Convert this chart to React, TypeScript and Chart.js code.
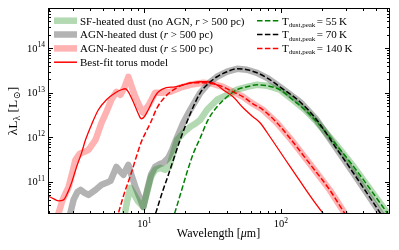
import React, { useEffect, useRef } from "react";
import { Chart, registerables } from "chart.js";
Chart.register(...registerables);

const FONT = "'Liberation Serif', 'DejaVu Serif', 'Times New Roman', serif";

// SF-heated dust (no AGN, r > 500 pc)
const sfWave = [7.15, 7.52, 7.91, 8.45, 9.04, 9.83, 10.5, 11.2, 12.0, 13.1, 14.2, 15.2, 16.3, 17.4, 19.3, 21.7, 23.6, 25.7, 28.8, 34.1, 40.4, 47.8, 56.5, 66.9, 79.1, 98.4, 122, 150, 183, 248, 347, 594, 646];
const sfLum = [1.72e10, 3.94e10, 7.33e10, 5.1e10, 3.56e10, 2.74e10, 5.96e10, 1.3e11, 1.86e11, 2.06e11, 1.86e11, 2.17e11, 4.48e11, 8.79e11, 1.26e12, 1.72e12, 2.01e12, 2.47e12, 4.15e12, 6.97e12, 9.01e12, 1.17e13, 1.36e13, 1.51e13, 1.44e13, 1.17e13, 6.97e12, 4.15e12, 2.23e12, 7.52e11, 2.06e11, 2.12e10, 1.48e10];

// AGN-heated dust (r > 500 pc)
const agnOutWave = [2.84, 3.03, 3.24, 3.41, 3.65, 3.9, 4.39, 4.86, 5.28, 5.65, 5.94, 6.25, 6.58, 7.03, 7.64, 8.04, 8.6, 9.2, 9.83, 10.5, 11.2, 12.0, 13.1, 13.8, 15.0, 16.0, 17.1, 19.3, 21.7, 25.7, 29.3, 34.1, 40.4, 47.8, 56.5, 66.9, 79.1, 98.4, 138, 183, 248, 347, 528, 583];
const agnOutLum = [1.72e10, 3.94e10, 5.96e10, 6.61e10, 5.66e10, 5.1e10, 6.61e10, 8.57e10, 9.5e10, 1.05e11, 1.51e11, 2.17e11, 1.77e11, 1.44e11, 2.41e11, 1.44e11, 7.73e10, 4.6e10, 2.74e10, 6.61e10, 1.44e11, 2.17e11, 2.54e11, 2.67e11, 3.46e11, 5.24e11, 8.79e11, 2.12e12, 4.15e12, 1.0e13, 1.59e13, 2.29e13, 2.97e13, 3.46e13, 3.29e13, 2.81e13, 2.17e13, 1.36e13, 6.28e12, 2.47e12, 6.44e11, 1.44e11, 2.12e10, 1.33e10];

// AGN-heated dust (r <= 500 pc)
const agnInWave = [2.32, 2.52, 2.79, 2.98, 3.13, 3.36, 3.65, 3.9, 4.39, 4.86, 5.28, 5.74, 6.25, 6.68, 7.15, 7.64, 8.04, 8.6, 9.2, 9.83, 10.9, 12.0, 13.5, 15.5, 18.3, 21.7, 27.0, 31.9, 37.7, 44.7, 52.9, 62.5, 74.0, 93.6, 116, 163, 228, 293, 330];
const agnInLum = [1.72e10, 3.94e10, 7.73e10, 1.68e11, 3.12e11, 4.26e11, 4.72e11, 5.24e11, 8.79e11, 2.12e12, 3.74e12, 6.97e12, 1.05e13, 9.01e12, 1.3e13, 2.29e13, 1.44e13, 8.13e12, 5.1e12, 3.55e12, 5.66e12, 1.0e13, 1.0e13, 1.05e13, 1.3e13, 1.51e13, 1.68e13, 1.59e13, 1.36e13, 1.05e13, 8.13e12, 5.66e12, 4.15e12, 2.12e12, 9.75e11, 2.54e11, 6.61e10, 2.0e10, 1.26e10];

// Best-fit torus model
const torusWave = [1.9, 2.17, 2.36, 2.56, 2.74, 2.93, 3.19, 3.47, 3.71, 4.1, 4.61, 5.28, 6.14, 6.8, 7.27, 7.64, 8.17, 8.6, 9.04, 9.51, 10.0, 10.7, 11.6, 12.7, 14.5, 16.8, 19.3, 22.4, 25.7, 28.4, 31.4, 34.7, 37.7, 44.7, 52.9, 62.5, 70.4, 83.2, 116, 203, 248];
const torusLum = [5.1e10, 4.15e10, 3.74e10, 3.94e10, 5.66e10, 9.5e10, 2.17e11, 4.48e11, 8.79e11, 1.91e12, 4.15e12, 6.97e12, 1.0e13, 1.17e13, 1.23e13, 1.05e13, 6.97e12, 4.84e12, 3.37e12, 2.61e12, 2.89e12, 4.15e12, 6.97e12, 1.05e13, 1.3e13, 1.36e13, 1.51e13, 1.68e13, 1.77e13, 1.77e13, 1.68e13, 1.44e13, 1.17e13, 8.13e12, 4.6e12, 2.89e12, 2.12e12, 1.03e12, 2.29e11, 2.0e10, 1.08e10];

// T_dust,peak = 55 K
const t55Wave = [16.0, 16.8, 18.6, 20.6, 22.8, 25.7, 29.3, 34.1, 40.4, 47.8, 56.5, 66.9, 79.1, 98.4, 122, 150, 183, 248, 347, 594, 646];
const t55Lum = [1.33e10, 2.12e10, 5.96e10, 1.68e11, 4.26e11, 9.75e11, 2.47e12, 4.84e12, 8.13e12, 1.17e13, 1.36e13, 1.51e13, 1.44e13, 1.17e13, 6.97e12, 4.15e12, 2.23e12, 7.52e11, 2.06e11, 2.12e10, 1.48e10];

// T_dust,peak = 70 K
const t70Wave = [11.6, 12.2, 13.5, 15.0, 16.6, 18.3, 21.7, 25.7, 29.3, 34.1, 40.4, 47.8, 56.5, 66.9, 79.1, 98.4, 138, 183, 248, 347, 528, 583];
const t70Lum = [1.33e10, 2.12e10, 5.66e10, 1.44e11, 3.65e11, 8.79e11, 3.37e12, 1.0e13, 1.59e13, 2.29e13, 2.97e13, 3.46e13, 3.29e13, 2.81e13, 2.17e13, 1.36e13, 6.28e12, 2.47e12, 6.44e11, 1.44e11, 2.12e10, 1.33e10];

// T_dust,peak = 140 K
const t140Wave = [6.25, 7.15, 7.91, 8.6, 9.51, 10.2, 11.1, 12.4, 14.2, 16.8, 19.3, 22.8, 27.0, 31.9, 37.7, 44.7, 52.9, 62.5, 74.0, 93.6, 116, 163, 228, 293, 330];
const t140Lum = [1.4e10, 5.66e10, 1.37e11, 3.12e11, 7.93e11, 1.26e12, 2.12e12, 4.6e12, 8.13e12, 1.23e13, 1.51e13, 1.68e13, 1.68e13, 1.59e13, 1.36e13, 1.05e13, 8.13e12, 5.66e12, 4.15e12, 2.12e12, 9.75e11, 2.54e11, 6.61e10, 2.0e10, 1.26e10];

// axes
const X_MIN = 1.97;
const X_MAX = 620;
const Y_MIN = 2e10;
const Y_MAX = 8e14;
const xMajorTicks = [10, 100];
const xTickExponents = ["1", "2"];
const yMajorTicks = [1e11, 1e12, 1e13, 1e14];
const yTickExponents = ["11", "12", "13", "14"];

const GREEN_THICK = "rgba(0,128,0,0.3)";
const GRAY_THICK = "rgba(128,128,128,0.6)";
const RED_THICK = "rgba(255,0,0,0.3)";

type Part = { t: string; size: number; dy?: number; italic?: boolean; gap?: number };

function fontOf(p: Part) {
  return `${p.italic ? "italic " : ""}${p.size}px ${FONT}`;
}

function drawRich(ctx: CanvasRenderingContext2D, x: number, y: number, parts: Part[], align: "left" | "center" | "right" = "left") {
  let w = 0;
  for (const p of parts) {
    ctx.font = fontOf(p);
    w += ctx.measureText(p.t).width + (p.gap || 0);
  }
  let cx = align === "center" ? x - w / 2 : align === "right" ? x - w : x;
  for (const p of parts) {
    ctx.font = fontOf(p);
    ctx.fillText(p.t, cx, y + (p.dy || 0));
    cx += ctx.measureText(p.t).width + (p.gap || 0);
  }
}

const decor = {
  id: "decor",
  afterDatasetsDraw(chart: any) {
    const ctx: CanvasRenderingContext2D = chart.ctx;
    const a = chart.chartArea;
    const xs = chart.scales.x;
    const ys = chart.scales.y;
    ctx.save();
    ctx.strokeStyle = "#000";
    ctx.fillStyle = "#000";
    ctx.lineWidth = 1;
    const L = Math.round(a.left) + 0.5;
    const R = Math.round(a.right) + 0.5;
    const T = Math.round(a.top) + 0.5;
    const B = Math.round(a.bottom) + 0.5;
    ctx.strokeRect(L, T, R - L, B - T);

    const tick = (x1: number, y1: number, x2: number, y2: number) => {
      ctx.beginPath();
      ctx.moveTo(x1, y1);
      ctx.lineTo(x2, y2);
      ctx.stroke();
    };
    const MAJ = 4.5;
    const MIN = 2.5;
    // x ticks
    for (let n = 0; n <= 2; n++) {
      for (let k = 1; k <= 9; k++) {
        const v = k * Math.pow(10, n);
        if (v < X_MIN || v > X_MAX) continue;
        const px = Math.round(xs.getPixelForValue(v)) + 0.5;
        const len = k === 1 ? MAJ : MIN;
        tick(px, B, px, B - len);
        tick(px, T, px, T + len);
      }
    }
    // y ticks
    for (let n = 10; n <= 14; n++) {
      for (let k = 1; k <= 9; k++) {
        const v = k * Math.pow(10, n);
        if (v < Y_MIN || v > Y_MAX) continue;
        const py = Math.round(ys.getPixelForValue(v)) + 0.5;
        const len = k === 1 ? MAJ : MIN;
        tick(L, py, L + len, py);
        tick(R, py, R - len, py);
      }
    }

    // tick labels
    ctx.textBaseline = "alphabetic";
    xMajorTicks.forEach((v, i) => {
      const px = xs.getPixelForValue(v);
      drawRich(ctx, px, a.bottom + 14, [
        { t: "10", size: 10.5 },
        { t: xTickExponents[i], size: 7.5, dy: -4.5 },
      ], "center");
    });
    yMajorTicks.forEach((v, i) => {
      const py = ys.getPixelForValue(v);
      drawRich(ctx, a.left - 3, py + 3.5, [
        { t: "10", size: 10.5 },
        { t: yTickExponents[i], size: 7.5, dy: -4.5 },
      ], "right");
    });

    // axis titles
    drawRich(ctx, (a.left + a.right) / 2, 237, [
      { t: "Wavelength [", size: 12 },
      { t: "\u03bc", size: 12, italic: true },
      { t: "m]", size: 12 },
    ], "center");
    ctx.save();
    ctx.translate(17, 111);
    ctx.rotate(-Math.PI / 2);
    drawRich(ctx, 0, 0, [
      { t: "\u03bbL", size: 13.5 },
      { t: "\u03bb", size: 9.5, dy: 3 },
      { t: " [L", size: 13.5, gap: 0.5 },
      { t: "\u2299", size: 9.5, dy: 3 },
      { t: "]", size: 13.5 },
    ], "center");
    ctx.restore();

    // legend
    const rows = [20.7, 34.5, 48.4, 62.2];
    const lx1 = 54, lx2 = 77, tx = 80;
    const handle = (x1: number, x2: number, y: number, color: string, w: number, dash: number[]) => {
      ctx.save();
      ctx.strokeStyle = color;
      ctx.lineWidth = w;
      ctx.lineCap = "butt";
      ctx.setLineDash(dash);
      ctx.beginPath();
      ctx.moveTo(x1, y);
      ctx.lineTo(x2, y);
      ctx.stroke();
      ctx.restore();
    };
    handle(lx1, lx2, rows[0], GREEN_THICK, 6.5, []);
    handle(lx1, lx2, rows[1], GRAY_THICK, 6.5, []);
    handle(lx1, lx2, rows[2], RED_THICK, 6.5, []);
    handle(lx1, lx2, rows[3], "#ff0000", 1.5, []);
    const S = 11;
    drawRich(ctx, tx, rows[0] + 3.8, [
      { t: "SF-heated dust (no AGN, ", size: S },
      { t: "r", size: S, italic: true },
      { t: " > 500 pc)", size: S },
    ]);
    drawRich(ctx, tx, rows[1] + 3.8, [
      { t: "AGN-heated dust (", size: S },
      { t: "r", size: S, italic: true },
      { t: " > 500 pc)", size: S },
    ]);
    drawRich(ctx, tx, rows[2] + 3.8, [
      { t: "AGN-heated dust (", size: S },
      { t: "r", size: S, italic: true },
      { t: " \u2264 500 pc)", size: S },
    ]);
    drawRich(ctx, tx, rows[3] + 3.8, [{ t: "Best-fit torus model", size: S }]);

    const rx1 = 257, rx2 = 279, rtx = 282;
    const temps = ["55", "70", "140"];
    const tcol = ["#008000", "#000000", "#ff0000"];
    temps.forEach((tv, i) => {
      handle(rx1, rx2, rows[i], tcol[i], 1.5, [5.5, 2.4]);
      drawRich(ctx, rtx, rows[i] + 3.8, [
        { t: "T", size: S },
        { t: "dust,peak", size: 7, dy: 2.2, gap: 1.5 },
        { t: "= " + tv + "\u2009K", size: S },
      ]);
    });

    ctx.restore();
  },
};

function mk(w: number[], l: number[]) {
  return w.map((x, i) => ({ x, y: l[i] }));
}

export default function App() {
  const ref = useRef<HTMLCanvasElement>(null);
  useEffect(() => {
    if (!ref.current) return;
    const thick = (data: any, color: string) => ({
      data,
      borderColor: color,
      backgroundColor: color,
      borderWidth: 6.5,
      pointRadius: 0,
      tension: 0,
      borderCapStyle: "butt",
      borderJoinStyle: "round",
      fill: false,
    });
    const dashed = (data: any, color: string) => ({
      data,
      borderColor: color,
      backgroundColor: color,
      borderWidth: 1.5,
      borderDash: [5.5, 2.4],
      pointRadius: 0,
      cubicInterpolationMode: "monotone",
      fill: false,
    });
    const chart = new Chart(ref.current, {
      type: "line",
      data: {
        datasets: [
          { label: "T=140K", ...dashed(mk(t140Wave, t140Lum), "#ff0000") },
          { label: "T=70K", ...dashed(mk(t70Wave, t70Lum), "#000000") },
          { label: "T=55K", ...dashed(mk(t55Wave, t55Lum), "#008000") },
          {
            label: "Best-fit torus model",
            data: mk(torusWave, torusLum),
            borderColor: "#ff0000",
            backgroundColor: "#ff0000",
            borderWidth: 1.3,
            pointRadius: 0,
            cubicInterpolationMode: "monotone",
            fill: false,
          },
          { label: "SF", ...thick(mk(sfWave, sfLum), GREEN_THICK) },
          { label: "AGN out", ...thick(mk(agnOutWave, agnOutLum), GRAY_THICK) },
          { label: "AGN in", ...thick(mk(agnInWave, agnInLum), RED_THICK) },
        ] as any,
      },
      options: {
        responsive: false,
        animation: false,
        devicePixelRatio: 1,
        parsing: true,
        layout: { padding: { left: 48, right: 10, top: 8, bottom: 37 } },
        plugins: { legend: { display: false }, tooltip: { enabled: false } },
        scales: {
          x: { type: "logarithmic", min: X_MIN, max: X_MAX, display: false },
          y: { type: "logarithmic", min: Y_MIN, max: Y_MAX, display: false },
        },
      } as any,
      plugins: [decor],
    });
    return () => chart.destroy();
  }, []);
  return (
    <div style={{ position: "fixed", left: 0, top: 0, width: 399, height: 250, background: "#fff" }}>
      <canvas ref={ref} width={399} height={250} style={{ display: "block", width: 399, height: 250 }} />
    </div>
  );
}
